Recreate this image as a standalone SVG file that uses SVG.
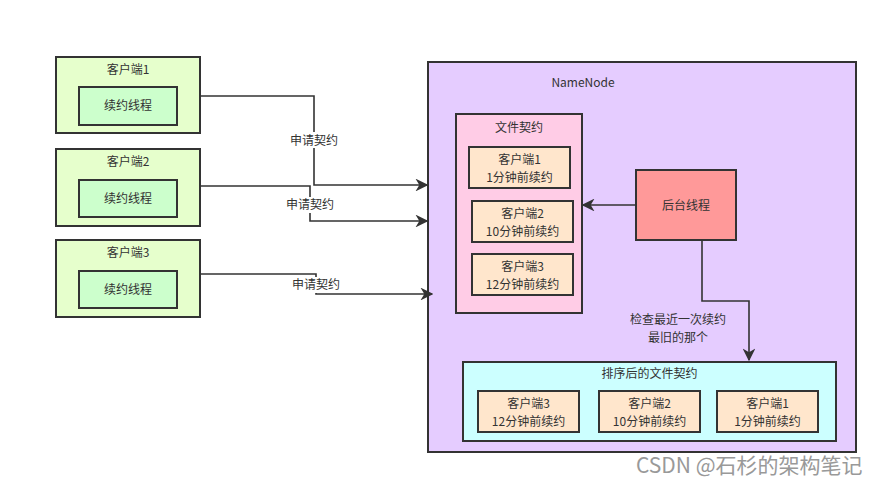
<svg xmlns="http://www.w3.org/2000/svg" width="888" height="485" viewBox="0 0 888 485">
<defs>
<marker id="ah" viewBox="0 0 10 10" refX="9" refY="5" markerWidth="8" markerHeight="8" orient="auto" markerUnits="strokeWidth">
<path d="M0,0 L10,5 L0,10 L3,5 Z" fill="#333"/>
</marker>
<style>
text{font-family:"Noto Sans CJK SC","Liberation Sans",sans-serif;font-size:12px;fill:#333;text-anchor:middle}
.b{stroke:#333;stroke-width:2}
.cl{fill:#E6FFCC}
.th{fill:#CCFFCC}
.nn{fill:#E5CCFF}
.fc{fill:#FFCCE6}
.it{fill:#FFE6CC}
.bg{fill:#FF9999}
.so{fill:#CCFFFF}
.c{fill:none;stroke:#333;stroke-width:1.6}
.wm{font-size:21px;fill:#999;text-anchor:start}
</style>
</defs>
<rect width="888" height="485" fill="#fff"/>
<g id="client1"><rect class="b cl" x="56" y="57" width="144" height="76"/><text x="128" y="74">客户端1</text><rect class="b th" x="79" y="87" width="98" height="38"/><text x="128" y="110">续约线程</text></g>
<g id="client2"><rect class="b cl" x="56" y="149" width="144" height="77"/><text x="128" y="166">客户端2</text><rect class="b th" x="79" y="180" width="98" height="37"/><text x="128" y="203">续约线程</text></g>
<g id="client3"><rect class="b cl" x="56" y="240" width="144" height="77"/><text x="128" y="257">客户端3</text><rect class="b th" x="79" y="271" width="98" height="37"/><text x="128" y="294">续约线程</text></g>
<g id="namenode"><rect class="b nn" x="428" y="62" width="428" height="390"/><text x="583" y="87">NameNode</text></g>
<g id="filelease"><rect class="b fc" x="456" y="114" width="126" height="199"/><text x="519" y="132">文件契约</text></g>
<g id="lease1"><rect class="b it" x="469" y="147" width="101" height="41"/><text x="519.500" y="164">客户端1</text><text x="519.500" y="181.500">1分钟前续约</text></g>
<g id="lease2"><rect class="b it" x="472" y="201" width="101" height="41"/><text x="522.500" y="218">客户端2</text><text x="522.500" y="235.500">10分钟前续约</text></g>
<g id="lease3"><rect class="b it" x="472" y="254" width="101" height="41"/><text x="522.500" y="271">客户端3</text><text x="522.500" y="288.500">12分钟前续约</text></g>
<g id="bgthread"><rect class="b bg" x="636" y="170" width="100" height="70"/><text x="686" y="210">后台线程</text></g>
<g id="sorted"><rect class="b so" x="463" y="362" width="373" height="79"/><text x="649.500" y="378">排序后的文件契约</text></g>
<g id="s3"><rect class="b it" x="478" y="391" width="101" height="41"/><text x="528.500" y="408">客户端3</text><text x="528.500" y="425.500">12分钟前续约</text></g>
<g id="s2"><rect class="b it" x="599" y="391" width="101" height="41"/><text x="649.500" y="408">客户端2</text><text x="649.500" y="425.500">10分钟前续约</text></g>
<g id="s1"><rect class="b it" x="717" y="391" width="101" height="41"/><text x="767.500" y="408">客户端1</text><text x="767.500" y="425.500">1分钟前续约</text></g>
<g id="connectors">
<path class="c" d="M200,96 H314 V185 H427" marker-end="url(#ah)"/>
<path class="c" d="M200,186 H310 V221 H427" marker-end="url(#ah)"/>
<path class="c" d="M200,274 H316 V294 H432" marker-end="url(#ah)"/>
<path class="c" d="M636,205 H583" marker-end="url(#ah)"/>
<path class="c" d="M702,240 V301 H749 V360" marker-end="url(#ah)"/>
<rect x="286" y="132" width="56" height="16" fill="#fff"/><text x="314" y="145">申请契约</text>
<rect x="282" y="197" width="56" height="16" fill="#fff"/><text x="310" y="209">申请契约</text>
<rect x="288" y="277" width="56" height="16" fill="#fff"/><text x="316" y="289">申请契约</text>
<text x="678" y="324">检查最近一次续约</text>
<text x="678" y="341.500">最旧的那个</text>
</g>
<text class="wm" x="636" y="473">CSDN @石杉的架构笔记</text>
</svg>
